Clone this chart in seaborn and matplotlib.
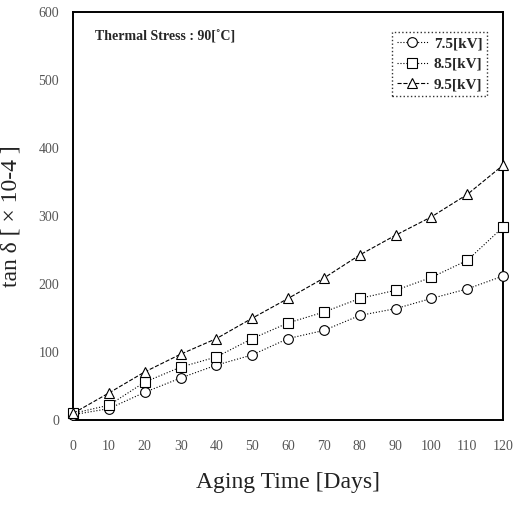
import pandas as pd
import matplotlib.pyplot as plt
import seaborn as sns

# Data
days = [0, 10, 20, 30, 40, 50, 60, 70, 80, 90, 100, 110, 120]
tan_75 = [8, 17, 41, 62, 81, 96, 120, 132, 154, 164, 179, 193, 212]
tan_85 = [10, 22, 56, 78, 93, 120, 143, 159, 179, 191, 210, 235, 284]
tan_95 = [10, 40, 71, 97, 120, 150, 179, 209, 243, 272, 299, 332, 375]
series_labels = ['7.5[kV]', '8.5[kV]', '9.5[kV]']

sns.set_style('white')
plt.rcParams['font.family'] = ['Liberation Serif', 'DejaVu Serif']

fig = plt.figure(figsize=(5.15, 5.05), dpi=100)
ax = fig.add_axes([0.142, 0.168, 0.835, 0.808])

styles = [('o', ':'), ('s', ':'), ('^', '--')]
for vals, lab, (mk, ls) in zip([tan_75, tan_85, tan_95], series_labels, styles):
    df = pd.DataFrame({'day': days, 'val': vals})
    sns.lineplot(data=df, x='day', y='val', ax=ax, color='black', linewidth=0.8,
                 linestyle=ls, marker=mk, markersize=7, markerfacecolor='white',
                 markeredgecolor='black', markeredgewidth=0.8, label=lab,
                 clip_on=False, zorder=3)

ax.set_xlim(0, 120)
ax.set_ylim(0, 600)
ax.set_xticks(days)
ax.set_yticks(range(0, 601, 100))
ax.tick_params(axis='both', length=0, labelsize=10, colors='#555555')
ax.tick_params(axis='x', pad=14)
ax.tick_params(axis='y', pad=10)
for s in ax.spines.values():
    s.set_color('black')
    s.set_linewidth(1.4)

ax.set_xlabel('Aging Time [Days]', fontsize=17, color='#222222', labelpad=14)
ax.set_ylabel('tan δ [ × 10-4 ]', fontsize=17, color='#222222', labelpad=12)

ax.text(0.05, 0.955, 'Thermal Stress : 90[˚C]', transform=ax.transAxes,
        fontsize=10, fontweight='bold', va='top')

leg = ax.legend(loc='upper right', bbox_to_anchor=(0.98, 0.97), frameon=True,
                fancybox=False, prop={'size': 11, 'weight': 'bold'},
                handlelength=2.0, handletextpad=0.4, borderpad=0.3,
                labelspacing=0.45)
leg.get_frame().set_edgecolor('black')
leg.get_frame().set_linestyle(':')
leg.get_frame().set_linewidth(1.0)

fig.savefig('out.png', dpi=100)
